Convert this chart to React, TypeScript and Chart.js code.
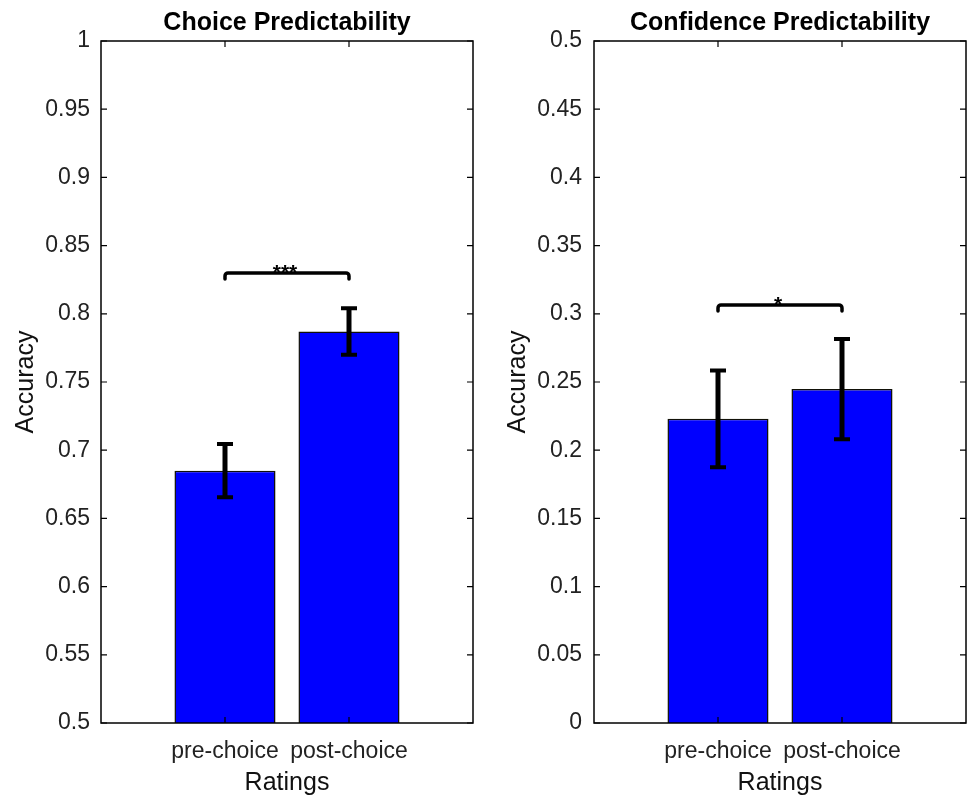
import React, { useEffect, useRef } from 'react';
import { Chart, registerables } from 'chart.js';

Chart.register(...registerables);

// ---- data ----
const categories = ['pre-choice', 'post-choice'];
const categoryPositions = [1, 2];
const xRange = [0, 3];
const xAxisTitle = 'Ratings';
const yAxisTitle = 'Accuracy';

const choiceTitle = 'Choice Predictability';
const choiceMeans = [0.685, 0.787];
const choiceSem = [0.0195, 0.017];
const choiceBracket = 0.83;
const choiceStars = '***';
const choiceYTicks = [0.5, 0.55, 0.6, 0.65, 0.7, 0.75, 0.8, 0.85, 0.9, 0.95, 1];
const choiceYLabels = ['0.5', '0.55', '0.6', '0.65', '0.7', '0.75', '0.8', '0.85', '0.9', '0.95', '1'];

const confTitle = 'Confidence Predictability';
const confMeans = [0.223, 0.2448];
const confSem = [0.0355, 0.0367];
const confBracket = 0.3065;
const confStars = '*';
const confYTicks = [0, 0.05, 0.1, 0.15, 0.2, 0.25, 0.3, 0.35, 0.4, 0.45, 0.5];
const confYLabels = ['0', '0.05', '0.1', '0.15', '0.2', '0.25', '0.3', '0.35', '0.4', '0.45', '0.5'];

const FONT = '"Liberation Sans", Arial, Helvetica, sans-serif';

type PanelProps = {
  title: string;
  means: number[];
  sem: number[];
  bracket: number;
  stars: string;
  yTicks: number[];
  yLabels: string[];
  width: number;
  yAxisWidth: number;
  rightPad: number;
  yTitlePad: number;
  yTickPad: number;
};

function Panel(p: PanelProps) {
  const ref = useRef<HTMLCanvasElement>(null);
  useEffect(() => {
    const canvas = ref.current;
    if (!canvas) return;
    const decor = {
      id: 'decor',
      afterDatasetsDraw(chart: any) {
        const { ctx, scales } = chart;
        const x = scales.x;
        const y = scales.y;
        ctx.save();
        ctx.strokeStyle = '#000';
        ctx.fillStyle = '#000';
        // error bars
        p.means.forEach((m, i) => {
          const px = x.getPixelForValue(categoryPositions[i]);
          const top = y.getPixelForValue(m + p.sem[i]);
          const bot = y.getPixelForValue(m - p.sem[i]);
          ctx.lineCap = 'butt';
          ctx.lineWidth = 5;
          ctx.beginPath();
          ctx.moveTo(px, top);
          ctx.lineTo(px, bot);
          ctx.stroke();
          ctx.lineWidth = 4;
          ctx.beginPath();
          ctx.moveTo(px - 8, top);
          ctx.lineTo(px + 8, top);
          ctx.moveTo(px - 8, bot);
          ctx.lineTo(px + 8, bot);
          ctx.stroke();
        });
        // significance bracket
        const x1 = x.getPixelForValue(categoryPositions[0]);
        const x2 = x.getPixelForValue(categoryPositions[1]);
        const by = y.getPixelForValue(p.bracket);
        ctx.lineWidth = 3.5;
        ctx.lineCap = 'round';
        ctx.lineJoin = 'round';
        ctx.beginPath();
        ctx.moveTo(x1, by + 6);
        ctx.arcTo(x1, by, x1 + 3, by, 3);
        ctx.lineTo(x2 - 3, by);
        ctx.arcTo(x2, by, x2, by + 3, 3);
        ctx.lineTo(x2, by + 6);
        ctx.stroke();
        ctx.font = `bold 21px ${FONT}`;
        ctx.textAlign = 'center';
        ctx.textBaseline = 'alphabetic';
        ctx.fillText(p.stars, (x1 + x2) / 2 - 2, by + 6);
        ctx.restore();
      },
      afterDraw(chart: any) {
        const { ctx, chartArea: a, scales } = chart;
        const x = scales.x;
        const y = scales.y;
        ctx.save();
        ctx.strokeStyle = '#000';
        ctx.lineWidth = 1.5;
        ctx.strokeRect(a.left, a.top, a.right - a.left, a.bottom - a.top);
        ctx.lineWidth = 1.2;
        ctx.beginPath();
        p.yTicks.forEach((v) => {
          const py = y.getPixelForValue(v);
          ctx.moveTo(a.left, py);
          ctx.lineTo(a.left + 6, py);
          ctx.moveTo(a.right, py);
          ctx.lineTo(a.right - 6, py);
        });
        categoryPositions.forEach((v) => {
          const px = x.getPixelForValue(v);
          ctx.moveTo(px, a.bottom);
          ctx.lineTo(px, a.bottom - 6);
          ctx.moveTo(px, a.top);
          ctx.lineTo(px, a.top + 6);
        });
        ctx.stroke();
        ctx.fillStyle = '#000';
        ctx.font = `bold 25px ${FONT}`;
        ctx.textAlign = 'center';
        ctx.textBaseline = 'alphabetic';
        ctx.fillText(p.title, (a.left + a.right) / 2, 30);
        ctx.restore();
      },
    };

    const chart = new Chart(canvas, {
      type: 'bar',
      data: {
        datasets: [
          {
            data: p.means.map((m, i) => ({ x: categoryPositions[i], y: m })),
            backgroundColor: '#0000ff',
            borderColor: '#111108',
            borderWidth: 1.5,
            barPercentage: 0.815,
            categoryPercentage: 1,
          },
        ],
      },
      options: {
        responsive: false,
        animation: false,
        events: [],
        layout: { padding: { left: 0, right: p.rightPad, top: 41, bottom: 0 } },
        plugins: { legend: { display: false }, tooltip: { enabled: false }, title: { display: false } },
        scales: {
          x: {
            type: 'linear',
            min: xRange[0],
            max: xRange[1],
            offset: false,
            grid: { display: false, drawTicks: false },
            border: { display: false },
            afterBuildTicks: (s: any) => {
              s.ticks = categoryPositions.map((v) => ({ value: v }));
            },
            afterFit: (s: any) => {
              s.height = 74;
            },
            ticks: {
              autoSkip: false,
              maxRotation: 0,
              minRotation: 0,
              padding: 15,
              color: '#222',
              font: { family: FONT, size: 23 },
              callback: (v: any) => {
                const i = categoryPositions.indexOf(Number(v));
                return i >= 0 ? categories[i] : '';
              },
            },
            title: {
              display: true,
              text: xAxisTitle,
              color: '#111',
              font: { family: FONT, size: 25, lineHeight: 1 },
              padding: { top: 0, bottom: 1 },
            },
          },
          y: {
            type: 'linear',
            min: p.yTicks[0],
            max: p.yTicks[p.yTicks.length - 1],
            grid: { display: false, drawTicks: false },
            border: { display: false },
            afterBuildTicks: (s: any) => {
              s.ticks = p.yTicks.map((v) => ({ value: v }));
            },
            afterFit: (s: any) => {
              s.width = p.yAxisWidth;
            },
            ticks: {
              padding: p.yTickPad,
              color: '#222',
              font: { family: FONT, size: 23 },
              callback: (_v: any, i: number) => p.yLabels[i],
            },
            title: {
              display: true,
              text: yAxisTitle,
              color: '#111',
              font: { family: FONT, size: 25, lineHeight: 1 },
              padding: { top: p.yTitlePad, bottom: 0 },
            },
          },
        },
      },
      plugins: [decor],
    } as any);
    return () => chart.destroy();
  }, []);
  return <canvas ref={ref} width={p.width} height={797} style={{ display: 'block', width: p.width, height: 797 }} />;
}

export default function App() {
  return (
    <div style={{ position: 'absolute', left: 0, top: 0, width: 971, height: 797, display: 'flex', background: '#fff' }}>
      <Panel
        title={choiceTitle}
        means={choiceMeans}
        sem={choiceSem}
        bracket={choiceBracket}
        stars={choiceStars}
        yTicks={choiceYTicks}
        yLabels={choiceYLabels}
        width={485}
        yAxisWidth={101}
        rightPad={12}
        yTitlePad={13.5}
        yTickPad={11}
      />
      <Panel
        title={confTitle}
        means={confMeans}
        sem={confSem}
        bracket={confBracket}
        stars={confStars}
        yTicks={confYTicks}
        yLabels={confYLabels}
        width={486}
        yAxisWidth={109}
        rightPad={5}
        yTitlePad={20.8}
        yTickPad={12}
      />
    </div>
  );
}
